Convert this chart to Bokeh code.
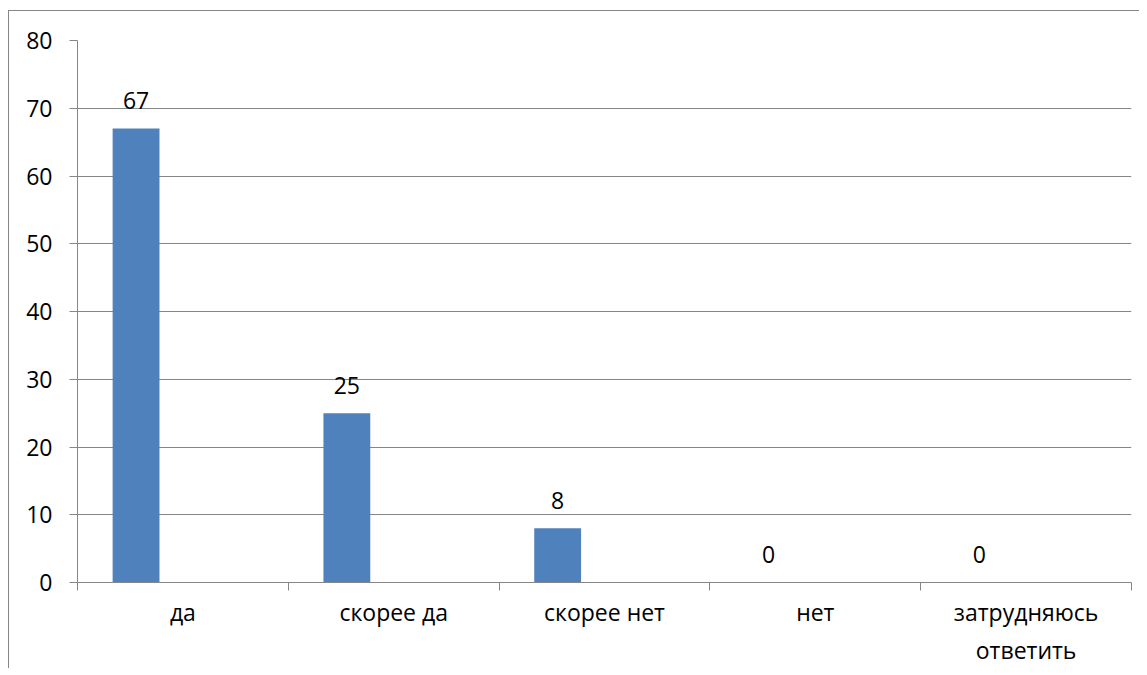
import numpy as np
from bokeh.plotting import figure
from bokeh.models import Range1d, FixedTicker
from bokeh.core.properties import value
from bokeh.embed import file_html
from bokeh.resources import INLINE

categories = ["да", "скорее да", "скорее нет", "нет", "затрудняюсь\nответить"]
values = [67, 25, 8, 0, 0]
y_ticks = [0, 10, 20, 30, 40, 50, 60, 70, 80]

FONT = "Open Sans"
FS = "23px"
GRAY = "#868686"
BAR = "#4F81BD"

n = len(categories)
idx = np.arange(n)
# first of three series slots in each category (gap width 150%)
bar_w = 1 / 4.5
bar_x = idx + 1.5 * bar_w / 2 + bar_w / 2

p = figure(frame_width=1054, frame_height=542, output_backend="svg", toolbar_location=None,
           x_range=Range1d(0, n), y_range=Range1d(0, y_ticks[-1]),
           min_border_left=68, min_border_right=8, min_border_top=29,
           min_border_bottom=78)
p.outline_line_color = None
p.background_fill_color = "white"
p.border_fill_color = "white"
p.styles = {"border-left": f"1px solid {GRAY}", "border-top": f"1px solid {GRAY}",
            "margin-left": "8px", "margin-top": "10px"}

p.vbar(x=bar_x, top=values, bottom=0, width=bar_w, fill_color=BAR, line_color=None)
p.text(x=bar_x, y=values, text=[str(v) for v in values], text_align="center",
       text_baseline="alphabetic", y_offset=-28, text_font=value(FONT),
       text_font_size=FS, text_color="black")

# x axis
xa = p.xaxis[0]
xa.ticker = FixedTicker(ticks=list(idx + 0.5), minor_ticks=list(range(n + 1)))
xa.major_label_overrides = {float(i + 0.5): c for i, c in enumerate(categories)}
xa.major_tick_line_color = None
xa.minor_tick_line_color = GRAY
xa.minor_tick_out = 8
xa.minor_tick_in = 0
xa.axis_line_color = GRAY
xa.major_label_text_font = FONT
xa.major_label_text_font_size = FS
xa.major_label_text_color = "black"
xa.major_label_standoff = 5

# y axis
ya = p.yaxis[0]
ya.ticker = FixedTicker(ticks=y_ticks)
ya.major_tick_out = 8
ya.major_tick_in = 0
ya.major_tick_line_color = GRAY
ya.minor_tick_line_color = None
ya.axis_line_color = GRAY
ya.major_label_text_font = FONT
ya.major_label_text_font_size = FS
ya.major_label_text_color = "black"
ya.major_label_standoff = 17

p.xgrid.visible = False
p.ygrid.grid_line_color = GRAY
p.ygrid.grid_line_width = 1

open("out.html", "w").write(file_html(p, INLINE))
